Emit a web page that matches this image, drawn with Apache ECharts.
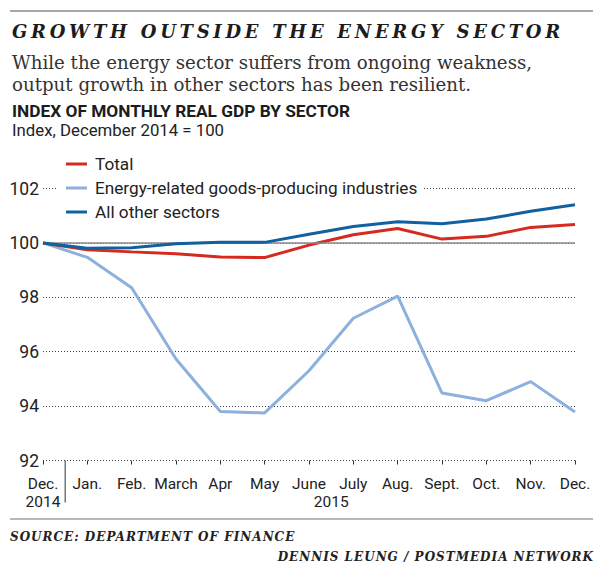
<!DOCTYPE html>
<html>
<head>
<meta charset="utf-8">
<script src="https://cdn.jsdelivr.net/npm/echarts@6/dist/echarts.min.js"></script>
<style>
  html, body { margin: 0; padding: 0; background: #fff; }
  #chart { width: 604px; height: 574px; }
  #chart svg text[style*="italic"][style*="18px"] { letter-spacing: 3.7px; }
  #chart svg text[style*="italic"][style*="12px"] { letter-spacing: 1px; }
</style>
</head>
<body>
<div id="chart"></div>
<script>
// ---- data ----
const months = ['Dec.\n2014', 'Jan.', 'Feb.', 'March', 'Apr', 'May', 'June', 'July', 'Aug.', 'Sept.', 'Oct.', 'Nov.', 'Dec.'];
const yearLabel = '2015';
const totalValues  = [100, 99.75, 99.67, 99.60, 99.48, 99.46, 99.92, 100.30, 100.53, 100.14, 100.24, 100.57, 100.68];
const energyValues = [100, 99.47, 98.35, 95.73, 93.80, 93.75, 95.30, 97.23, 98.04, 94.48, 94.20, 94.90, 93.78];
const otherValues  = [100, 99.80, 99.82, 99.97, 100.02, 100.02, 100.32, 100.60, 100.78, 100.70, 100.88, 101.16, 101.40];
const seriesNames = ['Total', 'Energy-related goods-producing industries', 'All other sectors'];
const yMin = 92, yMax = 102, yStep = 2;
const baseValue = 100;

const NARROW = 'Roboto, "Liberation Sans", sans-serif';
const SLAB = '"DejaVu Serif", serif';
const colors = { total: '#d42a1f', energy: '#8db0dc', other: '#11609f' };

const chart = echarts.init(document.getElementById('chart'), null, { renderer: 'svg' });

const option = {
  animation: false,
  backgroundColor: '#fff',
  title: [
    { text: 'GROWTH OUTSIDE THE ENERGY SECTOR', left: 12, top: 22, padding: 0,
      textStyle: { fontFamily: SLAB, fontStyle: 'italic', fontWeight: 'bold', fontSize: 18, lineHeight: 18, color: '#1c1c1c' } },
    { text: 'While the energy sector suffers from ongoing weakness,\noutput growth in other sectors has been resilient.', left: 12, top: 51, padding: 0,
      textStyle: { fontFamily: SLAB, fontWeight: 'normal', fontSize: 18.2, lineHeight: 22, color: '#333' } },
    { text: 'INDEX OF MONTHLY REAL GDP BY SECTOR', left: 12, top: 102, padding: 0,
      textStyle: { fontFamily: NARROW, fontWeight: 'bold', fontSize: 17.3, lineHeight: 18, color: '#1c1c1c' } },
    { text: 'Index, December 2014 = 100', left: 12, top: 121, padding: 0,
      textStyle: { fontFamily: NARROW, fontWeight: 'normal', fontSize: 16.8, lineHeight: 18, color: '#222' } },
    { text: 'SOURCE: DEPARTMENT OF FINANCE', left: 10, top: 531, padding: 0,
      textStyle: { fontFamily: SLAB, fontStyle: 'italic', fontWeight: 'bold', fontSize: 12, lineHeight: 12, color: '#222' } }
  ],
  legend: {
    data: seriesNames,
    orient: 'vertical',
    left: 58, top: 152,
    padding: [2, 6, 2, 8],
    backgroundColor: '#fff',
    itemGap: 4,
    itemWidth: 21, itemHeight: 3,
    icon: 'rect',
    selectedMode: false,
    textStyle: { fontFamily: NARROW, fontSize: 17.2, lineHeight: 20, color: '#222', padding: [0, 0, 0, 3] },
    z: 2
  },
  grid: { left: 43, right: 29, top: 188.5, bottom: 113.5, containLabel: false },
  xAxis: {
    type: 'category',
    data: months,
    boundaryGap: false,
    axisLine: { show: false },
    axisTick: { show: true, length: 4, lineStyle: { color: '#333', width: 1 } },
    axisLabel: { fontFamily: NARROW, fontSize: 15.5, lineHeight: 18, color: '#222', margin: 14, interval: 0 },
    splitLine: { show: false }
  },
  yAxis: {
    type: 'value',
    min: yMin, max: yMax, interval: yStep,
    axisLine: { show: false },
    axisTick: { show: false },
    axisLabel: { fontFamily: NARROW, fontSize: 17.5, color: '#222', margin: 4 },
    splitLine: { show: true, lineStyle: { color: '#444', width: 1, type: [1, 2] } }
  },
  series: [
    { type: 'line', name: '__base', data: [], z: 1, silent: true,
      markLine: { silent: true, symbol: 'none', label: { show: false },
        lineStyle: { color: '#8a8a8a', width: 1.5, type: 'solid' },
        data: [{ yAxis: baseValue }] } },
    { type: 'line', name: seriesNames[1], data: energyValues, z: 3, symbol: 'none',
      lineStyle: { color: colors.energy, width: 3 }, itemStyle: { color: colors.energy } },
    { type: 'line', name: seriesNames[0], data: totalValues, z: 4, symbol: 'none',
      lineStyle: { color: colors.total, width: 3 }, itemStyle: { color: colors.total } },
    { type: 'line', name: seriesNames[2], data: otherValues, z: 5, symbol: 'none',
      lineStyle: { color: colors.other, width: 3 }, itemStyle: { color: colors.other } }
  ]
};

chart.setOption(option);

const xFirst = chart.convertToPixel({ xAxisIndex: 0 }, 0);
const xSecond = chart.convertToPixel({ xAxisIndex: 0 }, 1);
const xLast = chart.convertToPixel({ xAxisIndex: 0 }, months.length - 1);
const yBottom = chart.convertToPixel({ yAxisIndex: 0 }, yMin);

chart.setOption({
  graphic: [
    { type: 'line', shape: { x1: 10, y1: 11, x2: 593, y2: 11 }, style: { stroke: '#8a8a8a', lineWidth: 1.5 }, silent: true },
    { type: 'line', shape: { x1: 10, y1: 519, x2: 593, y2: 519 }, style: { stroke: '#a0a0a0', lineWidth: 1.5 }, silent: true },
    { type: 'line', shape: { x1: (xFirst + xSecond) / 2, y1: yBottom, x2: (xFirst + xSecond) / 2, y2: yBottom + 42 },
      style: { stroke: '#333', lineWidth: 1 }, silent: true },
    { type: 'text', x: (xSecond + xLast) / 2, y: yBottom + 41,
      style: { text: yearLabel, fontFamily: NARROW, fontSize: 15.5, fill: '#222', align: 'center', verticalAlign: 'middle' }, silent: true },
    { type: 'text', x: 594, y: 557,
      style: { text: 'DENNIS LEUNG / POSTMEDIA NETWORK', fontFamily: SLAB, fontStyle: 'italic', fontWeight: 'bold', fontSize: 12,
        fill: '#222', align: 'right', verticalAlign: 'middle' }, silent: true }
  ]
});
</script>
</body>
</html>
